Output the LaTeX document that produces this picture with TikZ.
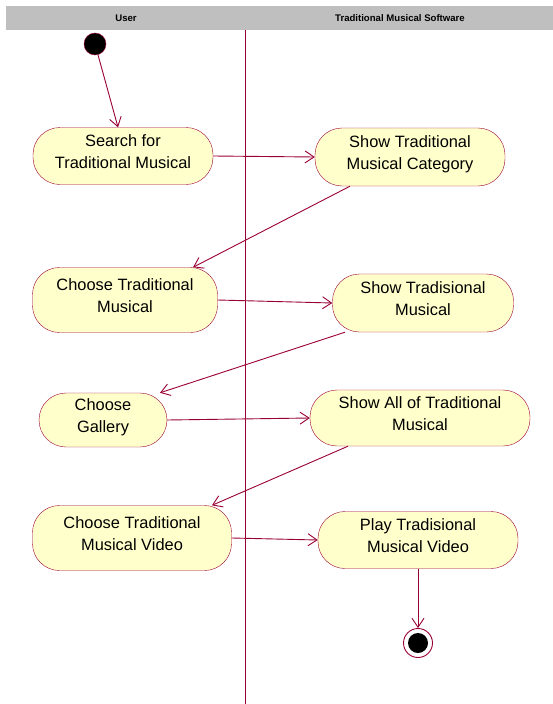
\documentclass[tikz,border=0pt]{standalone}
\usepackage{fontspec}
\setmainfont{Liberation Sans}
\usetikzlibrary{arrows.meta}
\definecolor{umlline}{RGB}{153,0,51}
\definecolor{umlfill}{RGB}{255,255,204}

\begin{document}
\begin{tikzpicture}[x=1pt, y=-1pt,
  act/.style={draw=umlline, fill=umlfill, rounded corners=27pt, align=center,
    inner sep=0pt, text depth=9pt, font=\fontsize{16.4}{22}\selectfont},
  flow/.style={draw=umlline, line width=0.9pt, -{Straight Barb[length=9pt,width=12pt]}},
  lane/.style={font=\bfseries\fontsize{9.6}{11}\selectfont}]
\useasboundingbox (0,0) rectangle (553,704);
% swimlane header
\fill[black!25] (6,6) rectangle (553,30);
\node[lane] (user) at (126,18) {User};
\node[lane] (soft) at (400,18) {Traditional Musical Software};
\draw[umlline, line width=1pt] (245,30) -- (245,704); % divider
% start and end
\node[circle, fill=black, draw=umlline, minimum width=20pt, minimum height=22pt, inner sep=0pt] (start) at (95,44) {};
\node[circle, draw=umlline, line width=0.9pt, minimum size=29pt, inner sep=0pt] (stop) at (418,643) {};
\fill[black] (stop) circle (10pt);
% user lane
\node[act, minimum width=180pt, minimum height=57pt] (search) at (123,156) {Search for\\Traditional Musical};
\node[act, minimum width=185pt, minimum height=65pt] (chooseMus) at (125,300) {Choose Traditional\\Musical};
\node[act, minimum width=128pt, minimum height=54pt] (chooseGal) at (103,420) {Choose\\Gallery};
\node[act, minimum width=199pt, minimum height=65pt] (chooseVid) at (132,538) {Choose Traditional\\Musical Video};
% software lane
\node[act, minimum width=190pt, minimum height=58pt] (showCat) at (410,157) {Show Traditional\\Musical Category};
\node[act, minimum width=181pt, minimum height=58pt] (showMus) at (423,303) {Show Tradisional\\Musical};
\node[act, minimum width=220pt, minimum height=56pt] (showAll) at (420,418) {Show All of Traditional\\Musical};
\node[act, minimum width=200pt, minimum height=57pt] (playVid) at (418,540) {Play Tradisional\\Musical Video};
% flows
\draw[flow] (start) -- ([xshift=-5pt]search.north);
\draw[flow] (search.east) -- (showCat.west);
\draw[flow] ([xshift=-60pt]showCat.south) -- ([xshift=68pt]chooseMus.north);
\draw[flow] (chooseMus.east) -- (showMus.west);
\draw[flow] ([xshift=-78pt]showMus.south) -- ([xshift=57pt]chooseGal.north);
\draw[flow] (chooseGal.east) -- (showAll.west);
\draw[flow] ([xshift=-72pt]showAll.south) -- ([xshift=80pt]chooseVid.north);
\draw[flow] (chooseVid.east) -- (playVid.west);
\draw[flow] (playVid.south) -- (stop.north);
\end{tikzpicture}
\end{document}
